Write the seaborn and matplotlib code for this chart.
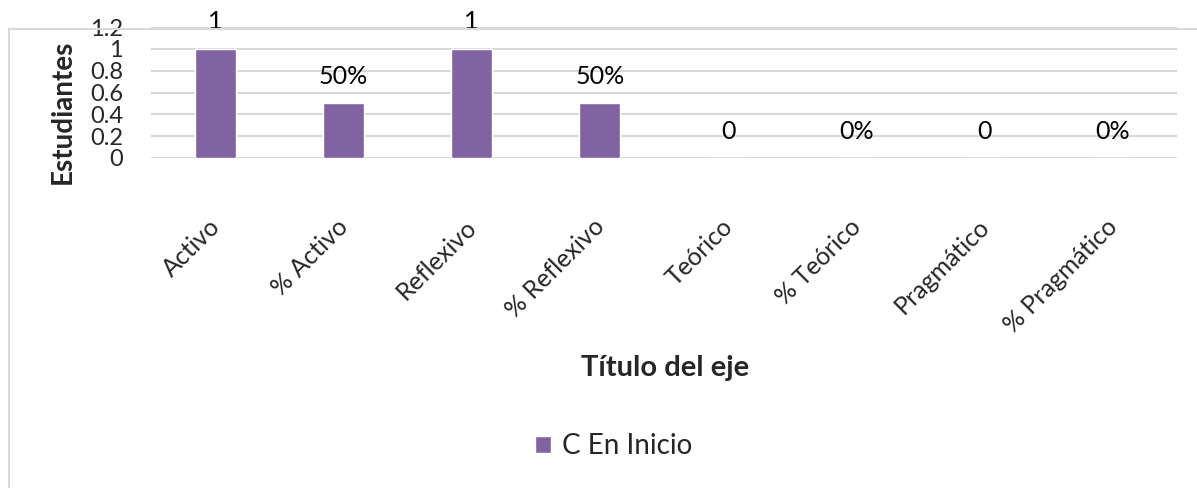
import matplotlib
matplotlib.use('Agg')
import matplotlib.pyplot as plt
import matplotlib.transforms as mtransforms
from matplotlib.patches import Rectangle
import seaborn as sns
import pandas as pd

# chart data
categories = ['Activo', '% Activo', 'Reflexivo', '% Reflexivo',
              'Teórico', '% Teórico', 'Pragmático', '% Pragmático']
values = [1, 0.5, 1, 0.5, 0, 0, 0, 0]
value_labels = ['1', '50%', '1', '50%', '0', '0%', '0', '0%']
y_ticks = [0, 0.2, 0.4, 0.6, 0.8, 1, 1.2]
y_tick_labels = ['0', '0.2', '0.4', '0.6', '0.8', '1', '1.2']
series_name = 'C En Inicio'

bar_color = '#8064A2'
grid_color = '#D9D9D9'

sns.set_style('white')
plt.rcParams['font.family'] = ['Lato', 'DejaVu Sans']

df = pd.DataFrame({'categoria': categories, 'valor': values})

fig = plt.figure(figsize=(11.97, 4.88), dpi=100)
ax = fig.add_axes([151 / 1197, 1 - 158 / 488, 1026 / 1197, 131 / 488])

sns.barplot(data=df, x='categoria', y='valor', color=bar_color,
            width=0.32, saturation=1, ax=ax, label=series_name, zorder=3)

ax.set_ylim(0, 1.2)
ax.set_xlim(-0.5, len(categories) - 0.5)
ax.set_yticks(y_ticks)
ax.set_yticklabels(y_tick_labels, fontsize=17)
ax.yaxis.grid(True, color=grid_color, linewidth=1.5, zorder=0)
ax.set_axisbelow(True)
for s in ax.spines.values():
    s.set_visible(False)
ax.tick_params(axis='y', length=0, pad=20)
ax.tick_params(axis='x', length=0, pad=41)
ax.set_xlabel('')
ax.set_ylabel('')

ax.set_xticks(range(len(categories)))
ax.set_xticklabels(categories, fontsize=18, rotation=45,
                   ha='right', va='top', rotation_mode='anchor')
shift = mtransforms.ScaledTranslation(-7 / 100, 0, fig.dpi_scale_trans)
for lbl in ax.get_xticklabels():
    lbl.set_transform(lbl.get_transform() + shift)

for i, (v, t) in enumerate(zip(values, value_labels)):
    ax.annotate(t, (i, v), xytext=(0, 14), textcoords='offset points',
                ha='center', va='baseline', fontsize=18, color='black',
                annotation_clip=False, zorder=5)

fig.text(63 / 1197, 1 - 112 / 488, 'Estudiantes', rotation=90,
         ha='center', va='center', fontsize=20, fontweight='bold')
fig.text(665 / 1197, 1 - 368 / 488, 'Título del eje',
         ha='center', va='center', fontsize=21, fontweight='bold')

if ax.legend_:
    ax.legend_.remove()
handles, labels = ax.get_legend_handles_labels()
fig.legend(handles[:1], labels[:1], loc='center',
           bbox_to_anchor=(614 / 1197, 1 - 446 / 488), frameon=False,
           fontsize=20, handlelength=0.58, handleheight=0.58,
           handletextpad=0.4)

# outer chart border
fig.add_artist(Rectangle((9 / 1197, -0.1), 1.2, 0.1 + 1 - 29 / 488,
                         transform=fig.transFigure, fill=False,
                         edgecolor=grid_color, linewidth=1.5))

fig.savefig('out.png', dpi=100)
